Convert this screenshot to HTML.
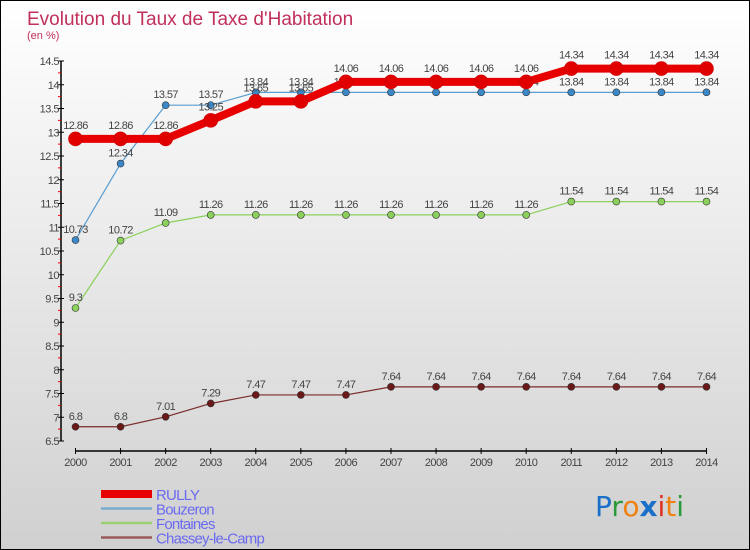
<!DOCTYPE html>
<html><head><meta charset="utf-8"><style>
body{margin:0}
#c{width:748px;height:548px;border:1px solid #000;position:relative;background:linear-gradient(#fff,#d0d0d0);font-family:"Liberation Sans",sans-serif;overflow:hidden}
</style></head><body>
<div id="c">
<svg width="748" height="548" id="s">
<text x="26" y="24" font-size="19" fill="#c0305a">Evolution du Taux de Taxe d'Habitation</text>
<text x="26" y="38" font-size="11" fill="#c0305a">(en %)</text>
<g id="g"></g>
<text x="594" y="515" font-size="28" font-family="'DejaVu Sans',sans-serif"><tspan fill="#1a6fc8">P</tspan><tspan fill="#2a9a3a">r</tspan><tspan fill="#f08010">o</tspan><tspan fill="#1a6fc8" font-weight="bold">x</tspan><tspan fill="#e03020">i</tspan><tspan fill="#f08010">t</tspan><tspan fill="#2a9a3a">i</tspan></text>
</svg></div>
<script>
const years=[2000,2001,2002,2003,2004,2005,2006,2007,2008,2009,2010,2011,2012,2013,2014];
const rully=[12.86,12.86,12.86,13.25,13.65,13.65,14.06,14.06,14.06,14.06,14.06,14.34,14.34,14.34,14.34];
const bouzeron=[10.73,12.34,13.57,13.57,13.84,13.84,13.84,13.84,13.84,13.84,13.84,13.84,13.84,13.84,13.84];
const fontaines=[9.3,10.72,11.09,11.26,11.26,11.26,11.26,11.26,11.26,11.26,11.26,11.54,11.54,11.54,11.54];
const chassey=[6.8,6.8,7.01,7.29,7.47,7.47,7.47,7.64,7.64,7.64,7.64,7.64,7.64,7.64,7.64];
const yTicks=[6.5,7,7.5,8,8.5,9,9.5,10,10.5,11,11.5,12,12.5,13,13.5,14,14.5];
const names=["RULLY","Bouzeron","Fontaines","Chassey-le-Camp"];
const NS="http://www.w3.org/2000/svg",g=document.getElementById('g');
const X=i=>74.5+i*45.07, Y=v=>440-(v-6.5)*47.5;
function mk(t,a,p){const e=document.createElementNS(NS,t);for(const k in a)e.setAttribute(k,a[k]);(p||g).appendChild(e);return e;}
// axes
let ax=mk('line',{x1:60,y1:60,x2:60,y2:440,stroke:'#000','stroke-width':1.5});


yTicks.forEach((v,i)=>{mk('line',{x1:57,x2:63,y1:Y(v),y2:Y(v),stroke:'#000'});
 if(i<yTicks.length-1)mk('line',{x1:57,x2:60,y1:Y(v+0.25),y2:Y(v+0.25),stroke:'#e00'});
 const t=mk('text',{x:58,y:Y(v)+4,'font-size':11,fill:'#444','text-anchor':'end','letter-spacing':'-0.5'});t.textContent=v;
 
 });
let xa=mk('line',{x1:74.5,y1:450,x2:X(14),y2:450,stroke:'#000','stroke-width':1.5});


years.forEach((y,i)=>{mk('line',{x1:X(i),x2:X(i),y1:447,y2:453,stroke:'#000'});
 const t=mk('text',{x:X(i),y:465,'font-size':11,fill:'#444','text-anchor':'middle','letter-spacing':'-0.5'});t.textContent=y;
 
 });
const series=[[chassey,'#7a2a2a','#6a1818',1.2,3.5],[fontaines,'#8ad05a','#8ad05a',1.2,3.5],[bouzeron,'#5a9ed0','#3a88c8',1.2,3.5],[rully,'#e80000','#e00000',8,7]];
const snames=['chassey-le-camp','fontaines','bouzeron','rully'];
series.forEach(([d,c,fc,w,r],si)=>{
 const pl=mk('polyline',{points:d.map((v,i)=>X(i)+','+Y(v)).join(' '),fill:'none',stroke:c,'stroke-width':w,'stroke-linejoin':'round'});
 
 
 d.forEach((v,i)=>{const p=mk('circle',{cx:X(i),cy:Y(v),r:r,fill:fc,stroke:si==3?'#c00':'#333','stroke-width':0.6});
  
  
  const t=mk('text',{x:X(i),y:Y(v)-(si==3?10:7),'font-size':11,fill:'#444','text-anchor':'middle','letter-spacing':'-0.6'});t.textContent=v;
  
  });
});
// legend
const lc=['#e80000','#7aaed0','#9ad070','#9a5a5a'],lw=[8,2.5,2.5,2.5];
names.forEach((n,i)=>{const y=493+i*14.5;
 const l=mk('line',{x1:100,x2:151,y1:y,y2:y,stroke:lc[i],'stroke-width':lw[i]});
 
 
 const t=mk('text',{x:155,y:y+6,'font-size':15,fill:'#6a6af0','letter-spacing':'-0.8'});t.textContent=n;
 
 });
</script>
</body></html>
